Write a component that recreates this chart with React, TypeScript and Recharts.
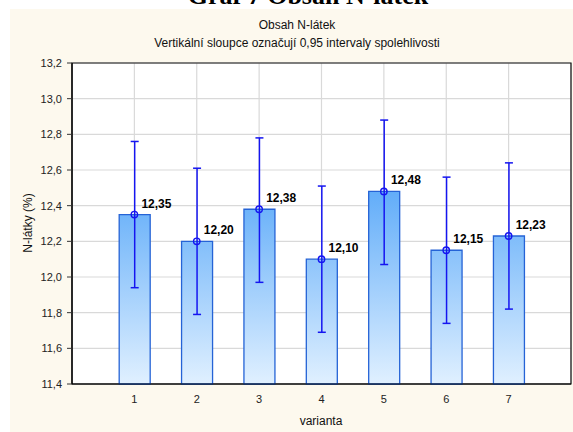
import React from 'react';
import {
  ComposedChart,
  Bar,
  Line,
  XAxis,
  YAxis,
  CartesianGrid,
  ErrorBar,
  ReferenceArea,
} from 'recharts';

// ---- data ----
const variants = [1, 2, 3, 4, 5, 6, 7];
const means = [12.35, 12.2, 12.38, 12.1, 12.48, 12.15, 12.23];
const lower = [11.94, 11.79, 11.97, 11.69, 12.07, 11.74, 11.82];
const upper = [12.76, 12.61, 12.78, 12.51, 12.88, 12.56, 12.64];
const yTicks = [11.4, 11.6, 11.8, 12.0, 12.2, 12.4, 12.6, 12.8, 13.0, 13.2];
const xTicks = variants;

const mainTitle = 'Graf 7 Obsah N-látek';
const chartTitle = 'Obsah N-látek';
const chartSubtitle = 'Vertikální sloupce označují 0,95 intervaly spolehlivosti';
const xLabel = 'varianta';
const yLabel = 'N-látky (%)';

const data = variants.map((v, i) => ({
  x: v,
  mean: means[i],
  err: [means[i] - lower[i], upper[i] - means[i]],
}));

const SANS = "Arial, 'Liberation Sans', sans-serif";
const SERIF = "'Times New Roman', 'Liberation Serif', serif";

const fmt = (v: number, d: number) => v.toFixed(d).replace('.', ',');

const renderDot = (props: any) => {
  const { cx, cy, payload, index } = props;
  if (cx == null || cy == null) return <g key={`d${index}`} />;
  return (
    <g key={`d${index}`}>
      <circle cx={cx} cy={cy} r={3.2} fill="none" stroke="#1515F0" strokeWidth={1.4} />
      <text
        x={cx + 7}
        y={cy - 7}
        fontFamily={SANS}
        fontSize={12}
        fontWeight="bold"
        fill="#000"
      >
        {fmt(payload.mean, 2)}
      </text>
    </g>
  );
};

export default function App() {
  return (
    <div
      style={{
        position: 'absolute',
        left: 0,
        top: 0,
        width: 573,
        height: 432,
        background: '#fff',
        overflow: 'hidden',
      }}
    >
      <div
        style={{
          position: 'absolute',
          left: 10,
          top: 9,
          width: 563,
          height: 423,
          background: '#FDF9EE',
        }}
      />
      <div style={{ position: 'absolute', left: 0, top: 0 }}>
        <ComposedChart
          width={573}
          height={432}
          data={data}
          margin={{ top: 63, right: 2, bottom: 18, left: 32 }}
        >
          <defs>
            <linearGradient id="barGrad" gradientUnits="userSpaceOnUse" x1="0" y1="63" x2="0" y2="384">
              <stop offset="0" stopColor="#3E95F5" />
              <stop offset="0.4" stopColor="#62ADF9" />
              <stop offset="1" stopColor="#E0F0FF" />
            </linearGradient>
          </defs>
          <CartesianGrid stroke="#D9D9D9" strokeWidth={1.2} fill="#FFFFFF" />
          <XAxis
            dataKey="x"
            type="number"
            domain={[0, 8]}
            ticks={xTicks}
            interval={0}
            tickLine={false}
            tickSize={0}
            tickMargin={11}
            height={30}
            axisLine={{ stroke: '#000', strokeWidth: 1.2 }}
            tick={{ fontFamily: SANS, fontSize: 11, fill: '#222' }}
          />
          <YAxis
            type="number"
            domain={[11.4, 13.2]}
            ticks={yTicks}
            interval={0}
            width={40}
            tickSize={5}
            tickMargin={5}
            tickLine={{ stroke: '#333' }}
            axisLine={{ stroke: '#000', strokeWidth: 1.2 }}
            tickFormatter={(v: number) => fmt(v, 1)}
            tick={{ fontFamily: SANS, fontSize: 11, fill: '#222' }}
          />
          <Bar
            dataKey="mean"
            barSize={31}
            fill="url(#barGrad)"
            stroke="#2563D6"
            strokeWidth={1.3}
            isAnimationActive={false}
          >
            <ErrorBar dataKey="err" width={4} stroke="#1515F0" strokeWidth={1.5} direction="y" />
          </Bar>
          <Line
            dataKey="mean"
            stroke="none"
            dot={renderDot}
            activeDot={false}
            isAnimationActive={false}
          />
          <ReferenceArea
            x1={0}
            x2={8}
            y1={11.4}
            y2={13.2}
            fill="none"
            fillOpacity={0}
            stroke="#111"
            strokeWidth={1.2}
          />
        </ComposedChart>
      </div>
      <svg
        width={573}
        height={432}
        style={{ position: 'absolute', left: 0, top: 0, pointerEvents: 'none' }}
      >
        <text x={308} y={4} textAnchor="middle" fontFamily={SERIF} fontWeight="bold" fontSize={26} fill="#000">
          {mainTitle}
        </text>
        <text x={297} y={29} textAnchor="middle" fontFamily={SANS} fontSize={12} fill="#111">
          {chartTitle}
        </text>
        <text x={297} y={47} textAnchor="middle" fontFamily={SANS} fontSize={12} fill="#111">
          {chartSubtitle}
        </text>
        <text x={321} y={425} textAnchor="middle" fontFamily={SANS} fontSize={12} fill="#111">
          {xLabel}
        </text>
        <text
          x={32}
          y={223}
          textAnchor="middle"
          fontFamily={SANS}
          fontSize={12}
          fill="#111"
          transform="rotate(-90 32 223)"
        >
          {yLabel}
        </text>
      </svg>
    </div>
  );
}
